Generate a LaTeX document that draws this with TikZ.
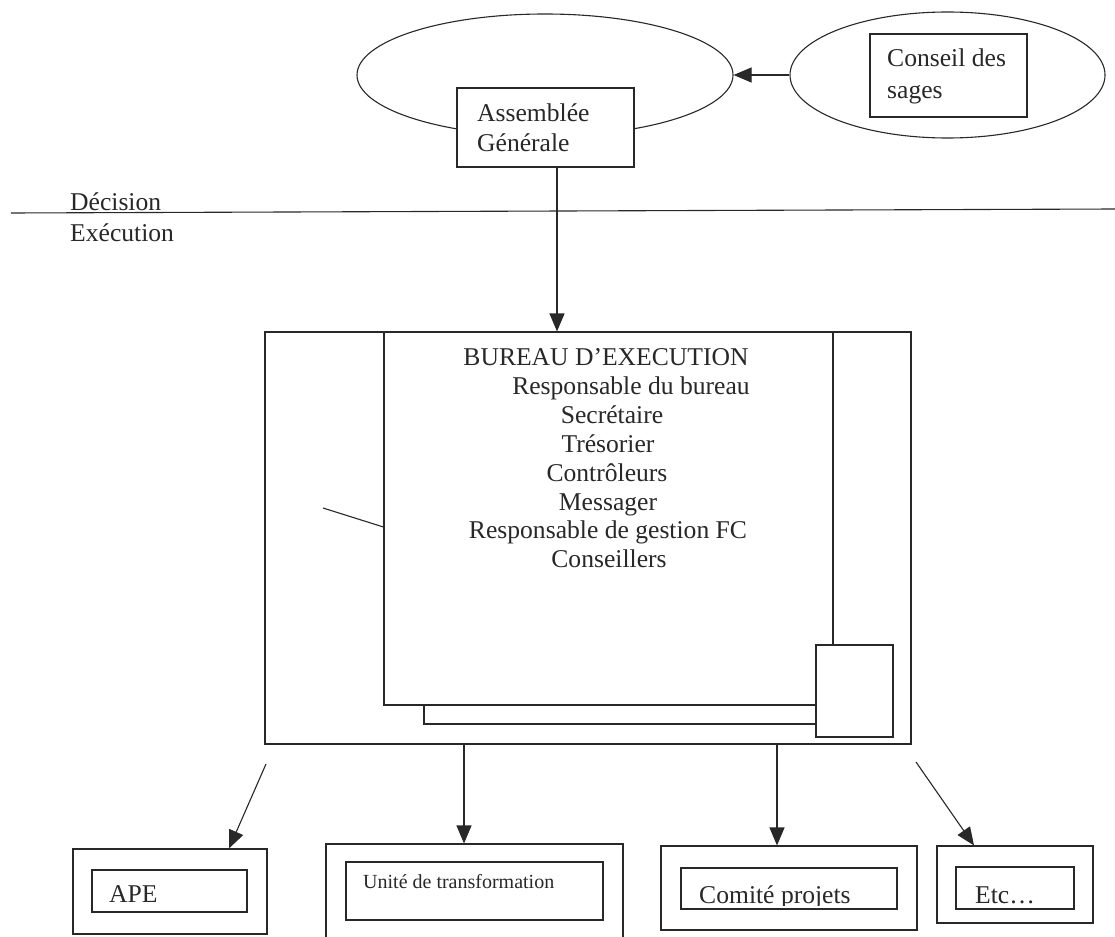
\documentclass[tikz,border=0pt]{standalone}
\usepackage{fontspec}
\setmainfont{Liberation Serif}
\usetikzlibrary{arrows.meta,shapes.geometric}
\definecolor{ink}{RGB}{40,40,40}
\begin{document}
\begin{tikzpicture}[x=1pt,y=-1pt,
  line/.style={draw=ink,line width=1.1pt},
  arr/.style={line,-{Triangle[length=18pt,width=15pt]}},
  box/.style={rectangle,draw=ink,line width=1.1pt,fill=white,inner sep=0pt},
  oval/.style={ellipse,draw=ink,line width=1.1pt,inner sep=0pt},
  lbl/.style={text=ink,inner sep=0pt,font=\fontsize{25.6}{29}\selectfont},
  small/.style={text=ink,inner sep=0pt,font=\fontsize{20}{24}\selectfont}]
\useasboundingbox (0,0) rectangle (1115,936);
\clip (0,0) rectangle (1115,936);
\fill[white] (0,0) rectangle (1115,936);

% top: decision level
\node[oval,minimum width=376pt,minimum height=122pt] (ge) at (545,75) {};
\node[oval,minimum width=315pt,minimum height=126pt] (cs) at (947.5,75) {};
\node[box,minimum width=177pt,minimum height=79pt] (ag) at (545.5,127.5) {};
\node[lbl,anchor=base west] (ag1) at (477,122) {Assemblée};
\node[lbl,anchor=base west] (ag2) at (477,152) {Générale};
\node[box,minimum width=157pt,minimum height=83pt] (cb) at (948.5,75.5) {};
\node[lbl,anchor=base west] (cb1) at (887,67) {Conseil des};
\node[lbl,anchor=base west] (cb2) at (887,99) {sages};
\draw[arr] (cs.west) -- (ge.east);

% separator
\coordinate (dl) at (11,213);
\coordinate (dr) at (1115,209);
\draw[line] (dl) -- (dr);
\node[lbl,anchor=base west] (dec) at (70,210) {Décision};
\node[lbl,anchor=base west] (exe) at (70,241) {Exécution};

% bureau
\node[box,minimum width=646pt,minimum height=412pt] (bu) at (588,538) {};
\node[box,minimum width=401pt,minimum height=374pt] (p2) at (624.5,537) {};
\node[box,minimum width=449pt,minimum height=373pt] (p1) at (608.5,518.5) {};
\node[box,minimum width=77pt,minimum height=92pt] (sb) at (854.5,691) {};
\node[lbl,anchor=base] (t0) at (606,365) {BUREAU D’EXECUTION};
\node[lbl,anchor=base] (t1) at (631,394) {Responsable du bureau};
\node[lbl,anchor=base] (t2) at (612,423) {Secrétaire};
\node[lbl,anchor=base] (t3) at (608,452) {Trésorier};
\node[lbl,anchor=base] (t4) at (607,481) {Contrôleurs};
\node[lbl,anchor=base] (t5) at (608,510) {Messager};
\node[lbl,anchor=base] (t6) at (608,538) {Responsable de gestion FC};
\node[lbl,anchor=base] (t7) at (609,567) {Conseillers};
\coordinate (sl) at (323,508);
\draw[line] (sl) -- ([yshift=-8.5pt]p1.west);

\draw[arr] ([xshift=11.5pt]ag.south) -- ([xshift=11.5pt]ag.south |- bu.north);

% APE
\node[box,minimum width=194pt,minimum height=85pt] (apeo) at (170,891.5) {};
\node[box,minimum width=155pt,minimum height=42pt] (apei) at (169.5,891) {};
\node[lbl,anchor=base west] (apet) at (109,902) {APE};
\coordinate (a1) at (266,764);
\draw[arr] (a1) -- ([xshift=59pt]apeo.north);

% Unite
\node[box,minimum width=297pt,minimum height=137pt] (uno) at (474.5,912.5) {};
\node[box,minimum width=257pt,minimum height=58pt] (uni) at (474.5,891) {};
\node[small,anchor=base west] (unt) at (363,888) {Unité de transformation};
\draw[arr] ([xshift=-124pt]bu.south) -- ([xshift=-124pt]bu.south |- uno.north);

% Comite
\node[box,minimum width=256pt,minimum height=84pt] (coo) at (789,888) {};
\node[box,minimum width=216pt,minimum height=41pt] (coi) at (789,888.5) {};
\begin{scope}
\clip ([shift={(1pt,-1pt)}]coi.north west) rectangle ([shift={(-1pt,4pt)}]coi.south east);
\node[lbl,anchor=base west] (cot) at (699,903) {Comité projets};
\end{scope}
\draw[arr] ([xshift=189pt]bu.south) -- ([xshift=189pt]bu.south |- coo.north);

% Etc
\node[box,minimum width=156pt,minimum height=77pt] (eto) at (1015,884.5) {};
\node[box,minimum width=118pt,minimum height=42pt] (eti) at (1015,888) {};
\begin{scope}
\clip ([shift={(1pt,-1pt)}]eti.north west) rectangle ([shift={(-1pt,4pt)}]eti.south east);
\node[lbl,anchor=base west] (ett) at (975,903) {Etc…};
\end{scope}
\coordinate (e1) at (916,762);
\draw[arr] (e1) -- ([xshift=-41pt]eto.north);
\end{tikzpicture}
\end{document}
